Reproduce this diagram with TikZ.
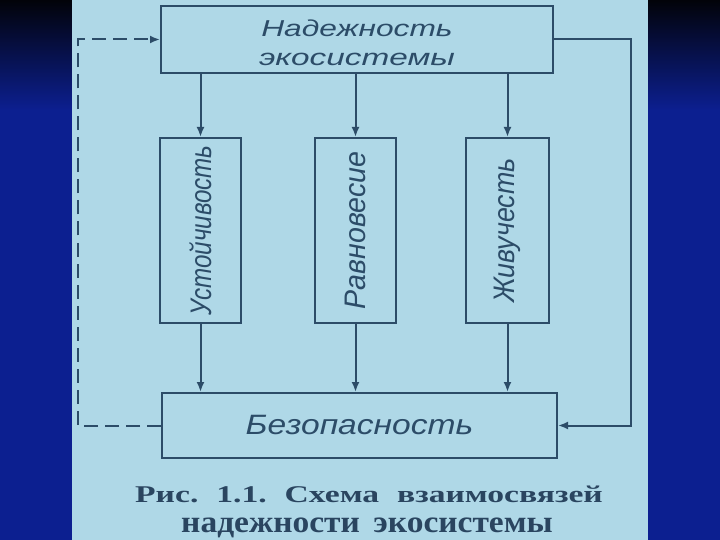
\documentclass[tikz,border=0pt]{standalone}
\usepackage{graphicx}
\usepackage{fontspec}
\setmainfont{Liberation Serif}
\newfontfamily\lsans{Liberation Sans}
\usetikzlibrary{arrows.meta,calc}
\definecolor{panel}{HTML}{AFD8E7}
\definecolor{ink}{HTML}{2C4C68}
\definecolor{capink}{HTML}{2A4560}
\definecolor{navy}{HTML}{0C1F90}
\definecolor{navytop}{HTML}{020309}
\newcommand{\htext}[3]{\scalebox{#2}[1]{\fontsize{#1}{#1}\selectfont\lsans\itshape #3}}
\newcommand{\vtext}[4]{\rotatebox{90}{\scalebox{#2}[#3]{\fontsize{#1}{#1}\selectfont\lsans\itshape #4}}}
\begin{document}
\begin{tikzpicture}[x=1pt,y=-1pt,
  box/.style={draw=ink, line width=2pt, inner sep=0pt, text=ink, align=center},
  conn/.style={draw=ink, line width=2pt},
  arr/.style={conn, -{Latex[length=10pt,width=8pt]}},
  darr/.style={arr, dash pattern=on 14pt off 7pt},
  captext/.style={text=capink, inner sep=0pt, anchor=base}]
\useasboundingbox (0,0) rectangle (720,540);
% background
\fill[navy] (0,0) rectangle (720,540);
\begin{scope}[y=1pt]
\shade[top color=navytop, bottom color=navy] (0,-110) rectangle (720,0);
\end{scope}
\fill[panel] (72,0) rectangle (648,540);

% boxes
\node[box, minimum width=392pt, minimum height=67pt] (top) at (357,39.5)
  {\rule{0pt}{19pt}\raisebox{-4pt}{\htext{23}{1.38}{Надежность}}\\[15pt]\raisebox{-4pt}{\htext{23}{1.45}{экосистемы}}};
\node[box, minimum width=81pt, minimum height=185pt] (v1) at (200.5,230.5)
  {\vtext{22}{1.1}{1.35}{Устойчивость}};
\node[box, minimum width=81pt, minimum height=185pt] (v2) at (355.5,230.5)
  {\vtext{22}{1.3}{1.35}{Равновесие}};
\node[box, minimum width=83pt, minimum height=185pt] (v3) at (507.5,230.5)
  {\vtext{22}{1.22}{1.35}{Живучесть}};
\node[box, minimum width=395pt, minimum height=65pt] (bot) at (359.5,425.5)
  {\htext{28}{1.2}{Безопасность}};

% vertical arrows
\draw[arr] (top.south -| v1) -- (v1.north);
\draw[arr] (top.south -| v2) -- (v2.north);
\draw[arr] (top.south -| v3) -- (v3.north);
\draw[arr] (v1.south) -- (bot.north -| v1);
\draw[arr] (v2.south) -- (bot.north -| v2);
\draw[arr] (v3.south) -- (bot.north -| v3);

% right feedback
\coordinate (rc) at (631,0);
\draw[arr] (top.east) -- (top.east -| rc) -- (bot.east -| rc) -- (bot.east);
% left dashed feedback
\coordinate (lc) at (78,0);
\draw[darr] (bot.west) -- (bot.west -| lc) -- (top.west -| lc) -- (top.west);

% caption
\node[captext] (c1) at (369,502) {\scalebox{1.4}[1]{\makebox[334pt][s]{\fontsize{24}{24}\selectfont\bfseries Рис.\ 1.1.\ Схема взаимосвязей}}};
\node[captext] (c2) at (367,532) {\scalebox{1.08}[1]{\makebox[344pt][s]{\fontsize{31}{31}\selectfont\bfseries надежности\ экосистемы}}};
\end{tikzpicture}
\end{document}
